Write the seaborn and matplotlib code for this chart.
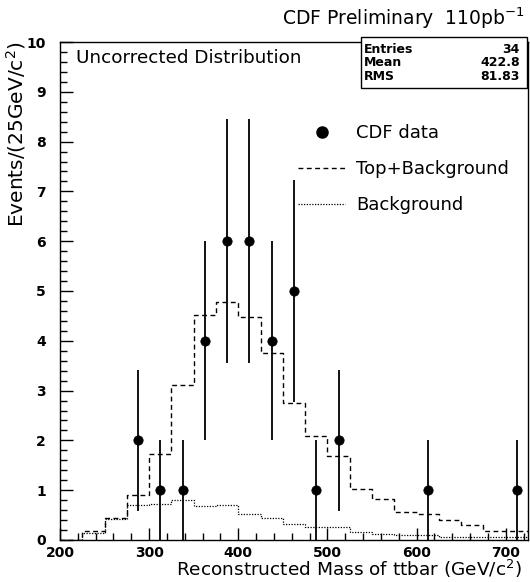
import matplotlib
matplotlib.use("Agg")
import matplotlib.pyplot as plt
from matplotlib.lines import Line2D
from matplotlib.ticker import MultipleLocator
import numpy as np
import pandas as pd
import seaborn as sns

# binning: 25 GeV bins from 200 to 725
bin_lo, bin_hi, bin_w = 200, 725, 25
bin_centers = np.arange(bin_lo, bin_hi, bin_w) + bin_w / 2

top_plus_bkg = [0.0, 0.19, 0.44, 0.91, 1.73, 3.12, 4.51, 4.77, 4.48, 3.75, 2.75,
                2.08, 1.68, 1.03, 0.83, 0.57, 0.52, 0.40, 0.31, 0.19, 0.19]
background = [0.0, 0.15, 0.42, 0.70, 0.72, 0.81, 0.68, 0.70, 0.52, 0.45, 0.32,
              0.27, 0.27, 0.17, 0.12, 0.10, 0.10, 0.06, 0.05, 0.05, 0.05]

data_mass = [287.5, 312.5, 337.5, 362.5, 387.5, 412.5, 437.5, 462.5, 487.5, 512.5, 612.5, 712.5]
data_counts = [2, 1, 1, 4, 6, 6, 4, 5, 1, 2, 1, 1]

stats_labels = ["Entries", "Mean", "RMS"]
stats_values = ["34", "422.8", "81.83"]

sns.set_style("ticks")
plt.rcParams["font.family"] = ["DejaVu Sans"]
for key in ["text.color", "axes.labelcolor", "xtick.color", "ytick.color", "axes.edgecolor"]:
    plt.rcParams[key] = "black"

fig = plt.figure(figsize=(5.3, 5.82), dpi=100)
ax = fig.add_axes([0.1132, 0.0722, 0.8830, 0.8556])

mc = pd.DataFrame({"mass": bin_centers, "sig": top_plus_bkg, "bkg": background})

sns.histplot(data=mc, x="mass", weights="sig", binwidth=bin_w, binrange=(bin_lo, bin_hi),
             element="step", fill=False, color="black", linestyle=(0, (3.5, 2.5)),
             linewidth=1.0, ax=ax)
sns.histplot(data=mc, x="mass", weights="bkg", binwidth=bin_w, binrange=(bin_lo, bin_hi),
             element="step", fill=False, color="black", linestyle=(0, (1, 1.2)),
             linewidth=0.9, ax=ax)

errs = np.sqrt(data_counts)
ax.errorbar(data_mass, data_counts, yerr=errs, fmt="none", ecolor="black",
            elinewidth=1.3, capsize=0)
sns.scatterplot(x=data_mass, y=data_counts, color="black", s=45, edgecolor="black",
                ax=ax, zorder=5)

ax.set_xlim(200, 725)
ax.set_ylim(0, 10)
ax.xaxis.set_major_locator(MultipleLocator(100))
ax.xaxis.set_minor_locator(MultipleLocator(20))
ax.yaxis.set_major_locator(MultipleLocator(1))
ax.yaxis.set_minor_locator(MultipleLocator(0.2))
ax.tick_params(which="both", direction="in", top=False, right=False,
               labelsize=10, width=1)
ax.tick_params(which="major", length=9)
ax.tick_params(which="minor", length=5)
ax.tick_params(axis="y", which="major", pad=10)
ax.tick_params(axis="x", which="major", pad=4)
for lab in ax.get_xticklabels() + ax.get_yticklabels():
    lab.set_fontweight("bold")
for s in ax.spines.values():
    s.set_linewidth(1.0)
    s.set_visible(True)

ax.set_ylabel("")
ax.set_xlabel("")
fig.text(0.985, 0.022, "Reconstructed Mass of ttbar (GeV/c$^2$)", ha="right",
         va="center", fontsize=13.3)
fig.text(0.030, 0.93, "Events/(25GeV/c$^2$)", ha="center", va="top",
         rotation=90, fontsize=14.5)
fig.text(0.99, 0.968, "CDF Preliminary  110pb$^{-1}$", ha="right", va="center",
         fontsize=13.5)
ax.text(0.035, 0.985, "Uncorrected Distribution", transform=ax.transAxes,
        ha="left", va="top", fontsize=13.2)

# stats box (sits slightly above the frame top, as in ROOT)
x0, x1 = (361 - 60) / 468, (527 - 60) / 468
y1, y0 = (540 - 37) / 498, (540 - 88) / 498
ax.add_patch(plt.Rectangle((x0, y0), x1 - x0, y1 - y0, transform=ax.transAxes,
                           facecolor="white", edgecolor="black", lw=1.0, zorder=6,
                           clip_on=False))
for i, (lab, val) in enumerate(zip(stats_labels, stats_values)):
    yy = (540 - 49 - 13.5 * i) / 498
    ax.text(x0 + 0.006, yy, lab, transform=ax.transAxes, ha="left", va="center",
            fontsize=9, fontweight="bold", zorder=7)
    ax.text((520 - 60) / 468, yy, val, transform=ax.transAxes, ha="right", va="center",
            fontsize=9, fontweight="bold", zorder=7)

handles = [
    Line2D([], [], marker="o", color="black", linestyle="none", markersize=8),
    Line2D([], [], color="black", linestyle=(0, (3.5, 2.5)), linewidth=1.0),
    Line2D([], [], color="black", linestyle=(0, (1, 1.2)), linewidth=0.9),
]
ax.legend(handles, ["CDF data", "Top+Background", "Background"], loc="upper left",
          bbox_to_anchor=((282 - 60) / 468, (540 - 108) / 498), frameon=False,
          fontsize=13, handlelength=2.6, handletextpad=0.6, labelspacing=1.0)

fig.savefig("out.png", dpi=100)
